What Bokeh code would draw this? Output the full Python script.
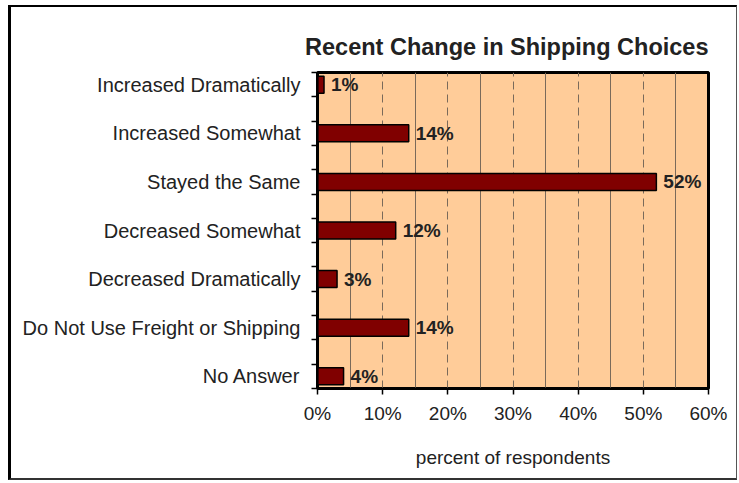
from bokeh.plotting import figure
from bokeh.layouts import column
from bokeh.models import FixedTicker, Range1d, ColumnDataSource
from bokeh.core.properties import value
from bokeh.embed import file_html
from bokeh.resources import INLINE

title = "Recent Change in Shipping Choices"
categories = ["Increased Dramatically", "Increased Somewhat", "Stayed the Same",
              "Decreased Somewhat", "Decreased Dramatically",
              "Do Not Use Freight or Shipping", "No Answer"]
percent = [1, 14, 52, 12, 3, 14, 4]
x_ticks = [0, 10, 20, 30, 40, 50, 60]
x_tick_labels = ["0%", "10%", "20%", "30%", "40%", "50%", "60%"]
x_label = "percent of respondents"

FONT = "Liberation Sans"
TXT = "#222222"

n = len(categories)
pos = [n - 1 - i for i in range(n)]
src = ColumnDataSource(dict(cat=categories, pct=percent, pos=pos,
                            lab=[f"{v}%" for v in percent]))

# figure sits inside a bordered box starting at (11, 7)
p = figure(width=725, height=471, output_backend="svg", toolbar_location=None,
           x_range=Range1d(0, 60), y_range=Range1d(-0.25, n - 0.75),
           min_border_left=306, min_border_right=28, min_border_top=65,
           min_border_bottom=90)

p.background_fill_color = "#FFCC99"
p.border_fill_color = "white"
p.outline_line_color = "black"
p.outline_line_width = 3

p.title.text = title
p.title.text_font = FONT
p.title.text_font_size = "23.5px"
p.title.text_font_style = "bold"
p.title.text_color = TXT
p.title.align = "right"
p.title.standoff = 25

# bars
p.hbar(y="pos", left=0, right="pct", height=0.35, source=src,
       fill_color="#800000", line_color="black", line_width=1.5)

p.text(x="pct", y="pos", text="lab", source=src, x_offset=7,
       text_baseline="middle", text_align="left",
       text_font=value(FONT), text_font_size="19px", text_font_style="bold",
       text_color=TXT)

# x axis
minor_x = [t + 5 for t in x_ticks[:-1]]
p.xaxis.ticker = FixedTicker(ticks=x_ticks, minor_ticks=minor_x)
p.xaxis.major_label_overrides = {t: l for t, l in zip(x_ticks, x_tick_labels)}
p.xaxis.major_label_text_font = FONT
p.xaxis.major_label_text_font_size = "19px"
p.xaxis.major_label_text_color = TXT
p.xaxis.major_label_standoff = 8
p.xaxis.major_tick_out = 6
p.xaxis.major_tick_in = 0
p.xaxis.major_tick_line_color = "black"
p.xaxis.major_tick_line_width = 1.5
p.xaxis.minor_tick_out = 0
p.xaxis.minor_tick_in = 0
p.xaxis.axis_line_color = "black"
p.xaxis.axis_line_width = 2
p.xaxis.axis_label = x_label
p.xaxis.axis_label_text_font = FONT
p.xaxis.axis_label_text_font_size = "19px"
p.xaxis.axis_label_text_font_style = "normal"
p.xaxis.axis_label_text_color = TXT
p.xaxis.axis_label_standoff = 20

# y axis
minor_y = [k * 0.5 - 0.25 for k in range(2 * n)]
p.yaxis.ticker = FixedTicker(ticks=pos, minor_ticks=minor_y)
p.yaxis.major_label_overrides = {pp: c for pp, c in zip(pos, categories)}
p.yaxis.major_label_text_font = FONT
p.yaxis.major_label_text_font_size = "20px"
p.yaxis.major_label_text_color = TXT
p.yaxis.major_label_standoff = 11
p.yaxis.major_tick_out = 0
p.yaxis.major_tick_in = 0
p.yaxis.minor_tick_out = 6
p.yaxis.minor_tick_in = 0
p.yaxis.minor_tick_line_color = "black"
p.yaxis.minor_tick_line_width = 1.5
p.yaxis.axis_line_color = "black"
p.yaxis.axis_line_width = 2

# grid
p.ygrid.visible = False
p.xgrid.grid_line_color = "#7a6a5a"
p.xgrid.grid_line_width = 1
p.xgrid.grid_line_dash = "8 5"
p.xgrid.minor_grid_line_color = "#7a6a5a"
p.xgrid.minor_grid_line_width = 1

layout = column(p, margin=(5, 0, 0, 8),
                styles={"border-left": "3px solid black",
                        "border-top": "2px solid black",
                        "border-right": "1px solid #555555",
                        "border-bottom": "2px solid #333333",
                        "box-sizing": "content-box"})

open("out.html", "w").write(file_html(layout, INLINE))
